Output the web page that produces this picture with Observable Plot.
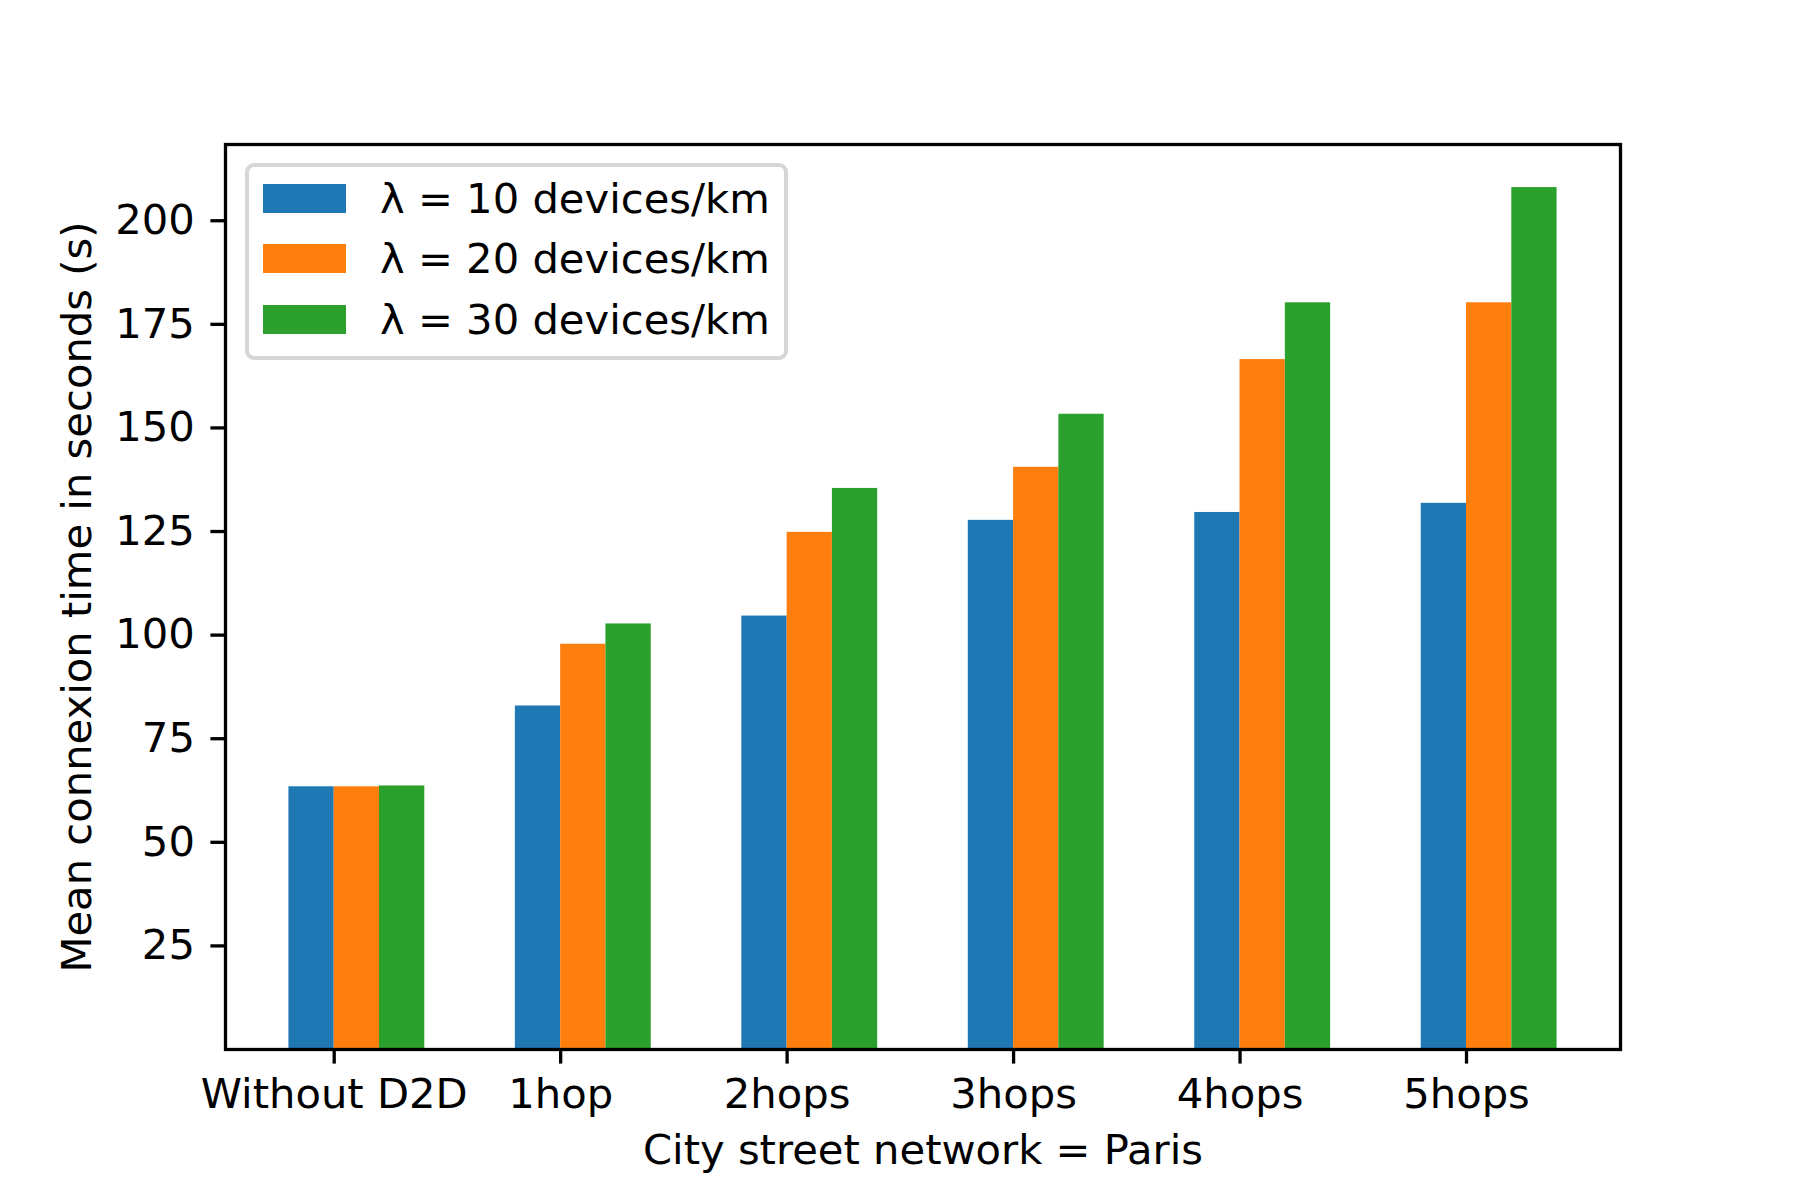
<!DOCTYPE html>
<html>
<head>
<meta charset="utf-8">
<script src="https://cdn.jsdelivr.net/npm/d3@7"></script>
<script src="https://cdn.jsdelivr.net/npm/@observablehq/plot@0.6"></script>
<style>
  html, body { margin: 0; padding: 0; background: white; }
  #wrap { position: relative; width: 1800px; height: 1200px; font-family: "DejaVu Sans", sans-serif; }
  #legend { position: absolute; left: 245px; top: 163px; width: 535px; height: 189px;
    border: 4px solid #d6d6d6; border-radius: 9px; background: rgba(255,255,255,0.8); }
  .item { position: absolute; left: 14px; height: 61px; display: flex; align-items: center; }
  .sw { width: 83px; height: 29px; margin-right: 34px; }
  .lab { font-size: 41.7px; color: black; white-space: nowrap; }
</style>
</head>
<body>
<div id="wrap"></div>
<script>
const categories = ["Without D2D", "1hop", "2hops", "3hops", "4hops", "5hops"];
const seriesNames = ["λ = 10 devices/km", "λ = 20 devices/km", "λ = 30 devices/km"];
const lambda10 = [63.4, 82.9, 104.6, 127.7, 129.6, 131.8];
const lambda20 = [63.4, 97.8, 124.8, 140.5, 166.5, 180.2];
const lambda30 = [63.6, 102.7, 135.4, 153.3, 180.2, 208.0];
const seriesColors = ["#1f77b4", "#ff7f0e", "#2ca02c"];
const yTicks = [25, 50, 75, 100, 125, 150, 175, 200];
const xLabel = "City street network = Paris";
const yLabel = "Mean connexion time in seconds (s)";

const seriesValues = [lambda10, lambda20, lambda30];
const barWidth = 0.2;
const rows = [];
seriesValues.forEach((vals, s) => {
  vals.forEach((v, i) => rows.push({i, s, series: seriesNames[s], value: v}));
});

const chart = Plot.plot({
  width: 1800,
  height: 1200,
  marginLeft: 225,
  marginRight: 180,
  marginTop: 144,
  marginBottom: 151,
  style: {fontFamily: "DejaVu Sans", fontSize: "41.7px", color: "black", background: "white", overflow: "visible"},
  x: {type: "linear", domain: [-0.48, 5.68]},
  y: {type: "linear", domain: [0, 218.4]},
  color: {domain: seriesNames, range: seriesColors},
  marks: [
    Plot.rect(rows, {
      x1: d => d.i - barWidth + d.s * barWidth,
      x2: d => d.i + d.s * barWidth,
      y1: 0,
      y2: "value",
      fill: "series"
    }),
    Plot.axisX({
      ticks: d3.range(categories.length),
      tickFormat: i => categories[i],
      tickSize: 14.6,
      tickPadding: 14,
      strokeWidth: 3.3,
      label: xLabel,
      labelAnchor: "center",
      labelArrow: "none",
      labelOffset: 114
    }),
    Plot.axisY({
      ticks: yTicks,
      tickFormat: d => String(d),
      tickSize: 14.6,
      tickPadding: 16,
      strokeWidth: 3.3,
      label: yLabel,
      labelAnchor: "center",
      labelArrow: "none",
      labelOffset: 164
    }),
    Plot.frame({stroke: "black", strokeWidth: 3.3})
  ]
});

const wrap = document.getElementById("wrap");
wrap.appendChild(chart);

const legend = document.createElement("div");
legend.id = "legend";
seriesNames.forEach((name, k) => {
  const item = document.createElement("div");
  item.className = "item";
  item.style.top = (0.5 + k * 60.75) + "px";
  const sw = document.createElement("div");
  sw.className = "sw";
  sw.style.background = seriesColors[k];
  const lab = document.createElement("span");
  lab.className = "lab";
  lab.textContent = name;
  item.appendChild(sw);
  item.appendChild(lab);
  legend.appendChild(item);
});
wrap.appendChild(legend);
</script>
</body>
</html>
